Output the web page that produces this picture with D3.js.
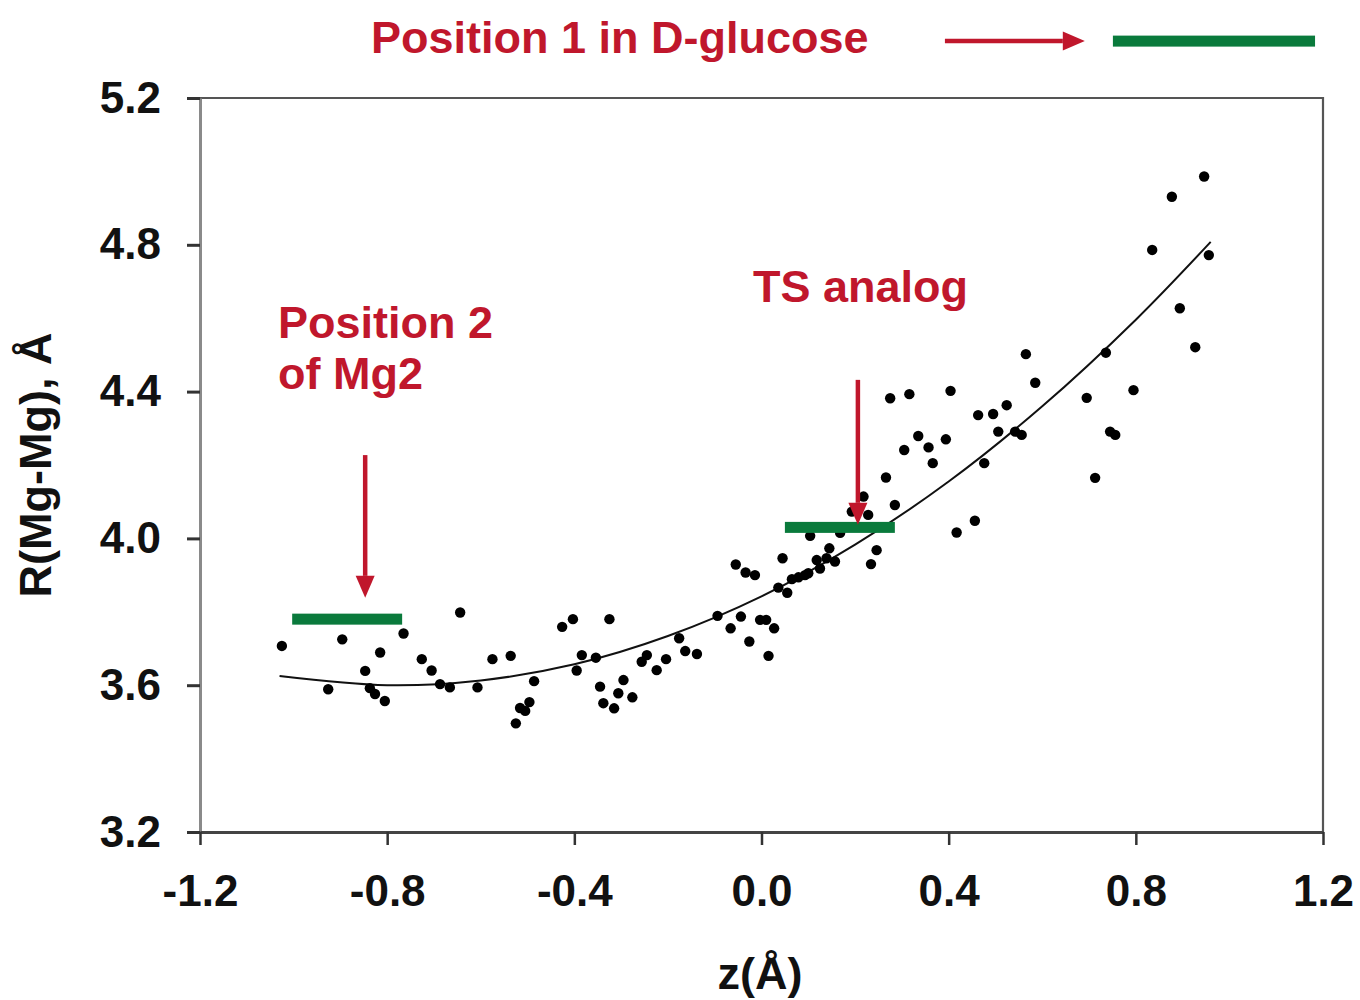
<!DOCTYPE html>
<html><head><meta charset="utf-8">
<script src="https://cdn.jsdelivr.net/npm/d3@7"></script>
<style>
body{margin:0;background:#fff}
svg{display:block}
text{font-family:"Liberation Sans",Arial,sans-serif;font-weight:bold}
</style>
</head><body>
<svg id="c" width="1360" height="1000"></svg>
<script>
// ---- data ----
const zValues = [-1.025,-0.926,-0.896,-0.847,-0.837,-0.826,-0.805,-0.815,-0.765,-0.726,
  -0.705,-0.687,-0.666,-0.644,-0.607,-0.575,-0.536,-0.486,-0.525,-0.516,
  -0.505,-0.496,-0.426,-0.403,-0.325,-0.384,-0.395,-0.354,-0.345,-0.295,
  -0.306,-0.338,-0.315,-0.276,-0.256,-0.245,-0.224,-0.204,-0.176,-0.163,
  -0.138,-0.094,-0.066,-0.044,-0.026,-0.003,0.010,0.027,0.015,-0.055,
  -0.034,-0.014,0.045,0.036,0.055,0.065,0.079,0.093,0.100,0.118,
  0.125,0.139,0.145,0.157,0.246,0.234,0.104,0.168,0.193,0.228,
  0.218,0.285,0.266,0.275,0.316,0.404,0.335,0.305,0.357,0.366,
  0.394,0.417,0.456,0.476,0.463,0.495,0.524,0.506,0.542,0.556,
  0.565,0.585,0.695,0.736,0.795,0.745,0.756,0.713,0.835,0.877,
  0.946,0.956,0.894,0.927];
const rValues = [3.707,3.589,3.725,3.639,3.592,3.576,3.557,3.689,3.741,3.671,
  3.640,3.603,3.594,3.798,3.594,3.671,3.680,3.611,3.496,3.538,
  3.530,3.554,3.759,3.780,3.780,3.682,3.640,3.675,3.596,3.614,
  3.578,3.551,3.537,3.567,3.664,3.682,3.641,3.671,3.728,3.693,
  3.685,3.789,3.755,3.787,3.719,3.778,3.778,3.755,3.680,3.929,
  3.907,3.900,3.946,3.866,3.852,3.889,3.894,3.900,3.905,3.941,
  3.918,3.946,3.973,3.937,3.968,3.930,4.007,4.015,4.073,4.064,
  4.114,4.091,4.166,4.382,4.393,4.402,4.279,4.241,4.248,4.205,
  4.270,4.016,4.048,4.205,4.336,4.339,4.363,4.291,4.291,4.282,
  4.502,4.424,4.383,4.506,4.404,4.291,4.282,4.165,4.786,4.931,
  4.986,4.772,4.627,4.521];
// trend curve
const fitZ = [-1.03,-0.8,-0.6,-0.4,-0.2,0.0,0.2,0.4,0.6,0.8,0.96];
const fitR = [3.625,3.600,3.613,3.657,3.734,3.842,3.983,4.155,4.360,4.596,4.808];
const xTicks = [-1.2,-0.8,-0.4,0.0,0.4,0.8,1.2];
const xTickLabels = ["-1.2","-0.8","-0.4","0.0","0.4","0.8","1.2"];
const yTicks = [3.2,3.6,4.0,4.4,4.8,5.2];
const yTickLabels = ["3.2","3.6","4.0","4.4","4.8","5.2"];
// Mg positions (green bars): z range and R level
const markerNames = ["Position 2 of Mg2","TS analog","Position 1 in D-glucose"];
const markerZ0 = [-1.003, 0.050, 0.751];
const markerZ1 = [-0.768, 0.285, 1.183];
const markerR  = [3.780, 4.030, 5.355];

// ---- layout ----
const svg = d3.select("#c");
const x = d3.scaleLinear().domain([-1.2,1.2]).range([200,1323]);
const y = d3.scaleLinear().domain([3.2,5.2]).range([832,98]);
const RED = "#c0172c", GREEN = "#0a7a3c";
const FONT = "'Liberation Sans',Arial,sans-serif";

// frame (top & right)
svg.append("path")
  .attr("d", `M${x(-1.2)},${y(5.2)}H${x(1.2)}V${y(3.2)}`)
  .attr("fill","none").attr("stroke","#555").attr("stroke-width",2.2);

// axes
const gy = svg.append("g").attr("transform",`translate(${x(-1.2)},0)`)
  .call(d3.axisLeft(y).tickValues(yTicks).tickFormat((d,i)=>yTickLabels[i])
    .tickSize(13).tickSizeOuter(0).tickPadding(26));
gy.select(".domain").attr("stroke","#8a8a8a").attr("stroke-width",3);
gy.selectAll(".tick line").attr("stroke","#333").attr("stroke-width",3);
gy.selectAll(".tick text").attr("font-size",44).attr("fill","#111")
  .style("font-family",FONT).style("font-weight","bold");

const gx = svg.append("g").attr("transform",`translate(0,${y(3.2)})`)
  .call(d3.axisBottom(x).tickValues(xTicks).tickFormat((d,i)=>xTickLabels[i])
    .tickSize(13).tickSizeOuter(0).tickPadding(30));
gx.select(".domain").attr("stroke","#444").attr("stroke-width",3);
gx.selectAll(".tick line").attr("stroke","#333").attr("stroke-width",2.5);
gx.selectAll(".tick text").attr("font-size",44).attr("fill","#111")
  .style("font-family",FONT).style("font-weight","bold");

// axis titles
svg.append("text").attr("x",760).attr("y",989).attr("text-anchor","middle")
  .attr("font-size",45).attr("fill","#111").text("z(Å)");
svg.append("text").attr("transform","translate(51,465) rotate(-90)")
  .attr("text-anchor","middle").attr("font-size",45).attr("fill","#111")
  .text("R(Mg-Mg), Å");

// trend curve
const fitData = fitZ.map((z,i)=>({z, r:fitR[i]}));
svg.append("path").datum(fitData)
  .attr("d", d3.line().x(d=>x(d.z)).y(d=>y(d.r)).curve(d3.curveCatmullRom.alpha(0.5)))
  .attr("fill","none").attr("stroke","#111").attr("stroke-width",2);

// points
const pts = zValues.map((z,i)=>({z, r:rValues[i]}));
svg.append("g").selectAll("circle").data(pts).join("circle")
  .attr("cx",d=>x(d.z)).attr("cy",d=>y(d.r)).attr("r",5.2).attr("fill","#000");

// green bars
const bars = markerZ0.map((z0,i)=>({z0, z1:markerZ1[i], r:markerR[i]}));
svg.append("g").selectAll("rect").data(bars).join("rect")
  .attr("x",d=>x(d.z0)).attr("width",d=>x(d.z1)-x(d.z0))
  .attr("y",d=>y(d.r)-5.5).attr("height",11).attr("fill",GREEN);

// arrows (start z,R -> tip z,R)
const arrowFromZ = [-0.847, 0.206, 0.392];
const arrowFromR = [4.227, 4.432, 5.355];
const arrowToZ   = [-0.847, 0.206, 0.691];
const arrowToR   = [3.838, 4.037, 5.355];
const ag = svg.append("g");
arrowFromZ.forEach((z,i)=>{
  const x1=x(z), y1=y(arrowFromR[i]), x2=x(arrowToZ[i]), y2=y(arrowToR[i]);
  const ang=Math.atan2(y2-y1,x2-x1), L=22, W=9.5;
  const bx=x2-L*Math.cos(ang), by=y2-L*Math.sin(ang);
  ag.append("line").attr("x1",x1).attr("y1",y1).attr("x2",bx).attr("y2",by)
    .attr("stroke",RED).attr("stroke-width",4.5);
  const px=-Math.sin(ang)*W, py=Math.cos(ang)*W;
  ag.append("path").attr("d",`M${x2},${y2}L${bx+px},${by+py}L${bx-px},${by-py}Z`).attr("fill",RED);
});

// annotation texts
const ann = svg.append("g").attr("fill",RED).attr("font-size",45);
ann.append("text").attr("x",371).attr("y",53).text(markerNames[2]);
ann.append("text").attr("x",278).attr("y",338).text("Position 2");
ann.append("text").attr("x",278).attr("y",389).text("of Mg2");
ann.append("text").attr("x",753).attr("y",302).text(markerNames[1]);
</script>
</body></html>
